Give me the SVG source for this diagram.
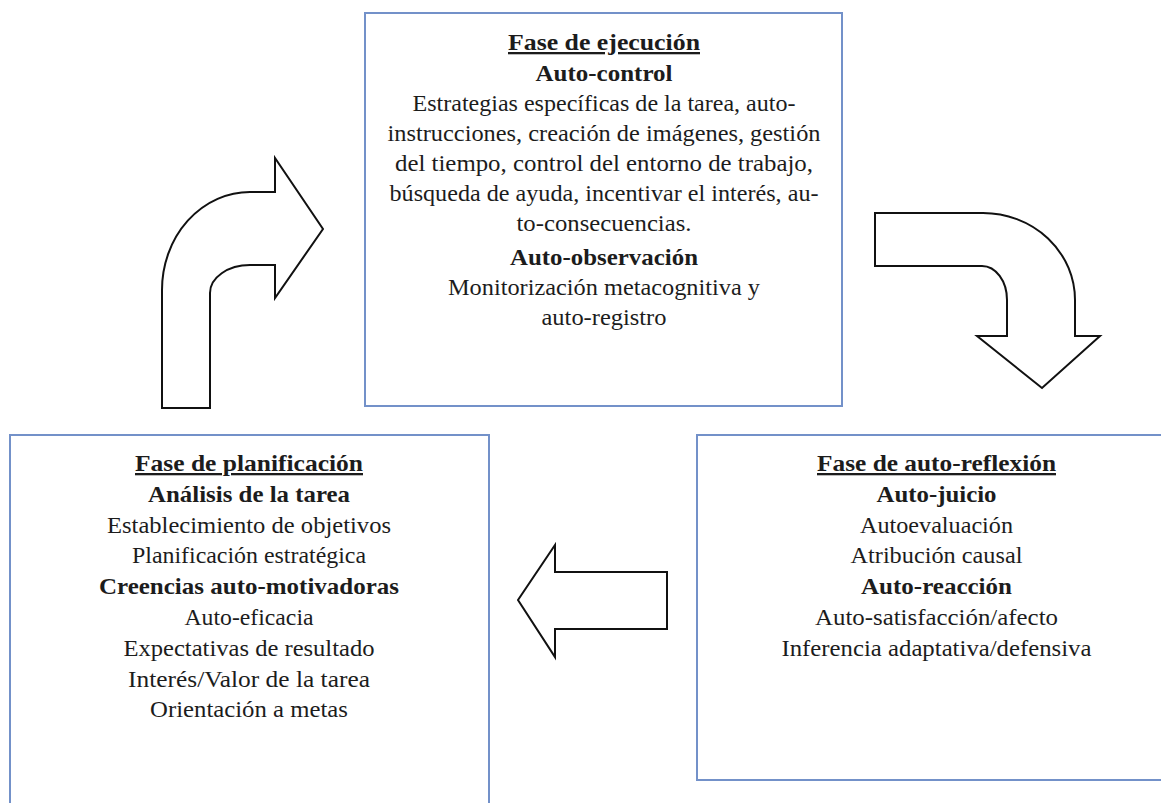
<svg xmlns="http://www.w3.org/2000/svg" width="1161" height="803" viewBox="0 0 1161 803">
<style>
.box{fill:none;stroke:#7391c9;stroke-width:2}
.arrow{fill:#fff;stroke:#111;stroke-width:2;stroke-linejoin:miter}
text{font-family:"Liberation Serif","Times New Roman",serif;font-size:23px;fill:#1c1c1c;text-anchor:middle}
.b{font-weight:bold}
.u{font-weight:bold;text-decoration:underline}
</style>
<rect width="1161" height="803" fill="#fff"/>
<g id="connectors">
<path id="arrow-plan-to-exec" class="arrow" d="M162,408 L162,290 A88,98 0 0 1 250,192 L275,192 L275,158 L323,229 L275,298 L275,265 L250,265 A40,28 0 0 0 210,293 L210,408 Z"/>
<path id="arrow-exec-to-reflex" class="arrow" d="M875,213 L983,213 A92,87 0 0 1 1075,300 L1075,336 L1100,336 L1042,388 L977,336 L1007,336 L1007,300 A25,34 0 0 0 982,266 L875,266 Z"/>
<path id="arrow-reflex-to-plan" class="arrow" d="M667,572 L555,572 L555,545 L518,600 L555,657 L555,629 L667,629 Z"/>
</g>
<g id="fase-ejecucion">
<rect class="box" x="365" y="13" width="477" height="393"/>
<text x="604" y="50" class="u" textLength="192" lengthAdjust="spacingAndGlyphs">Fase de ejecución</text>
<text x="604" y="81" class="b" textLength="137" lengthAdjust="spacingAndGlyphs">Auto-control</text>
<text x="604" y="111" textLength="383" lengthAdjust="spacingAndGlyphs">Estrategias específicas de la tarea, auto-</text>
<text x="604" y="141" textLength="433" lengthAdjust="spacingAndGlyphs">instrucciones, creación de imágenes, gestión</text>
<text x="604" y="171" textLength="418" lengthAdjust="spacingAndGlyphs">del tiempo, control del entorno de trabajo,</text>
<text x="604" y="201" textLength="429" lengthAdjust="spacingAndGlyphs">búsqueda de ayuda, incentivar el interés, au-</text>
<text x="604" y="231" textLength="175" lengthAdjust="spacingAndGlyphs">to-consecuencias.</text>
<text x="604" y="265" class="b" textLength="188" lengthAdjust="spacingAndGlyphs">Auto-observación</text>
<text x="604" y="295" textLength="312" lengthAdjust="spacingAndGlyphs">Monitorización metacognitiva y</text>
<text x="604" y="325" textLength="125" lengthAdjust="spacingAndGlyphs">auto-registro</text>
</g>
<g id="fase-planificacion">
<path class="box" d="M10,810 L10,435 L489,435 L489,810"/>
<text x="249" y="471" class="u" textLength="228" lengthAdjust="spacingAndGlyphs">Fase de planificación</text>
<text x="249" y="502" class="b" textLength="202" lengthAdjust="spacingAndGlyphs">Análisis de la tarea</text>
<text x="249" y="533" textLength="284" lengthAdjust="spacingAndGlyphs">Establecimiento de objetivos</text>
<text x="249" y="563" textLength="234" lengthAdjust="spacingAndGlyphs">Planificación estratégica</text>
<text x="249" y="594" class="b" textLength="300" lengthAdjust="spacingAndGlyphs">Creencias auto-motivadoras</text>
<text x="249" y="625" textLength="129" lengthAdjust="spacingAndGlyphs">Auto-eficacia</text>
<text x="249" y="656" textLength="251" lengthAdjust="spacingAndGlyphs">Expectativas de resultado</text>
<text x="249" y="687" textLength="242" lengthAdjust="spacingAndGlyphs">Interés/Valor de la tarea</text>
<text x="249" y="717" textLength="198" lengthAdjust="spacingAndGlyphs">Orientación a metas</text>
</g>
<g id="fase-auto-reflexion">
<path class="box" d="M1170,435 L697,435 L697,780 L1170,780"/>
<text x="936.5" y="471" class="u" textLength="239" lengthAdjust="spacingAndGlyphs">Fase de auto-reflexión</text>
<text x="936.5" y="502" class="b" textLength="120" lengthAdjust="spacingAndGlyphs">Auto-juicio</text>
<text x="936.5" y="533" textLength="153" lengthAdjust="spacingAndGlyphs">Autoevaluación</text>
<text x="936.5" y="563" textLength="172" lengthAdjust="spacingAndGlyphs">Atribución causal</text>
<text x="936.5" y="594" class="b" textLength="151" lengthAdjust="spacingAndGlyphs">Auto-reacción</text>
<text x="936.5" y="625" textLength="243" lengthAdjust="spacingAndGlyphs">Auto-satisfacción/afecto</text>
<text x="936.5" y="656" textLength="310" lengthAdjust="spacingAndGlyphs">Inferencia adaptativa/defensiva</text>
</g>
</svg>
